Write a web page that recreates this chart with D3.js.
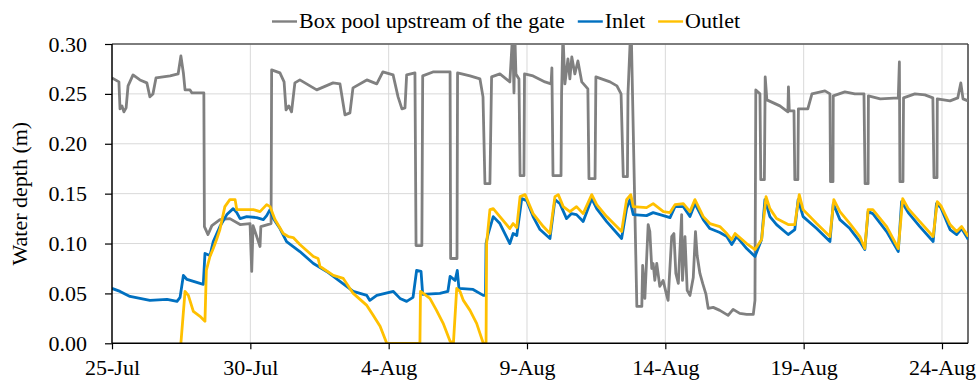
<!DOCTYPE html>
<html>
<head>
<meta charset="utf-8">
<script src="https://cdn.jsdelivr.net/npm/d3@7"></script>
<style>
  body { margin: 0; background: #fff; }
  svg { display: block; font-family: "Liberation Serif", "Times New Roman", serif; }
</style>
</head>
<body>
<svg id="chart" width="980" height="385"></svg>
<script>
// days since 25-Jul, water depth in m
var boxDays = [0,0.25,0.29,0.36,0.43,0.51,0.58,0.76,1.01,1.26,1.37,1.48,1.59,2.10,2.39,2.49,2.58,2.64,2.82,2.89,3.32,3.34,3.47,3.61,3.90,4.26,4.63,4.99,5.05,5.10,5.35,5.38,5.75,5.77,6.07,6.22,6.29,6.39,6.49,6.61,6.79,7.40,7.99,8.24,8.42,8.60,8.71,9.21,9.57,9.79,10.16,10.34,10.48,10.59,10.65,10.95,10.99,11.20,11.23,11.60,12.22,12.24,12.47,12.49,12.94,13.30,13.41,13.48,13.66,13.72,14.02,14.38,14.48,14.53,14.56,14.60,14.71,14.75,14.89,14.91,15.22,15.65,15.87,15.90,15.94,16.23,16.25,16.30,16.37,16.48,16.55,16.62,16.73,16.84,16.98,17.20,17.24,17.46,17.49,18.00,18.25,18.40,18.48,18.63,18.65,18.74,18.77,18.97,19.15,19.18,19.26,19.38,19.44,19.51,19.56,19.62,19.69,19.80,19.92,20.05,20.10,20.23,20.31,20.38,20.47,20.59,20.62,20.71,20.79,20.89,21.01,21.09,21.15,21.25,21.35,21.47,21.55,21.73,21.97,22.27,22.45,22.69,22.94,23.18,23.24,23.27,23.42,23.45,23.58,23.61,23.67,24.14,24.43,24.45,24.48,24.65,24.68,24.79,24.81,25.15,25.30,25.77,25.95,25.97,26.06,26.07,26.49,26.85,27.18,27.22,27.33,27.34,27.77,28.42,28.46,28.48,28.59,28.61,29.02,29.38,29.67,29.71,29.82,29.83,30.29,30.57,30.68,30.76,30.94];
var boxDepth = [0.266,0.262,0.235,0.238,0.232,0.236,0.258,0.269,0.264,0.261,0.247,0.250,0.266,0.268,0.270,0.288,0.271,0.254,0.254,0.251,0.251,0.117,0.109,0.118,0.124,0.125,0.119,0.120,0.072,0.118,0.097,0.117,0.120,0.274,0.271,0.262,0.234,0.238,0.232,0.261,0.264,0.254,0.261,0.260,0.229,0.231,0.256,0.264,0.260,0.272,0.269,0.247,0.235,0.236,0.269,0.271,0.098,0.098,0.268,0.272,0.272,0.085,0.085,0.271,0.268,0.265,0.247,0.160,0.160,0.267,0.270,0.262,0.310,0.251,0.310,0.270,0.265,0.168,0.168,0.270,0.268,0.262,0.260,0.276,0.168,0.168,0.250,0.310,0.260,0.285,0.265,0.287,0.270,0.283,0.262,0.255,0.165,0.165,0.267,0.262,0.258,0.250,0.167,0.167,0.250,0.310,0.310,0.037,0.037,0.078,0.045,0.119,0.112,0.075,0.080,0.063,0.080,0.057,0.063,0.048,0.043,0.107,0.110,0.070,0.060,0.129,0.063,0.107,0.053,0.048,0.066,0.112,0.088,0.070,0.060,0.049,0.035,0.036,0.033,0.028,0.034,0.030,0.029,0.029,0.043,0.254,0.250,0.164,0.164,0.267,0.244,0.238,0.232,0.257,0.233,0.233,0.164,0.164,0.235,0.235,0.250,0.253,0.250,0.162,0.162,0.248,0.252,0.250,0.250,0.160,0.160,0.248,0.245,0.246,0.282,0.162,0.162,0.246,0.250,0.249,0.246,0.166,0.166,0.245,0.243,0.246,0.261,0.245,0.243];

var inletDays = [0,0.29,0.65,1.37,1.99,2.35,2.46,2.58,2.71,3.18,3.30,3.36,3.54,3.66,3.90,4.15,4.38,4.51,4.63,4.87,5.23,5.47,5.59,5.71,5.83,6.07,6.31,6.79,7.28,7.76,8.24,8.72,9.21,9.32,9.57,10.17,10.41,10.65,10.88,11.01,11.17,11.23,11.85,12.14,12.22,12.40,12.48,12.54,13.05,13.42,13.50,13.52,13.60,13.78,14.02,14.38,14.50,14.63,14.81,14.99,15.22,15.47,15.83,16.01,16.19,16.43,16.61,16.79,17.03,17.34,17.52,17.88,18.42,18.60,18.72,18.84,19.32,19.56,19.93,20.17,20.35,20.65,20.89,21.07,21.37,21.61,21.97,22.22,22.40,22.58,22.94,23.24,23.48,23.60,23.78,24.02,24.44,24.68,24.80,24.98,25.47,25.95,26.07,26.31,26.67,27.03,27.21,27.33,27.50,28.00,28.42,28.54,28.78,29.20,29.68,29.80,29.96,30.29,30.53,30.71,30.95];
var inletDepth = [0.055,0.052,0.047,0.043,0.044,0.042,0.046,0.068,0.064,0.060,0.059,0.090,0.088,0.102,0.117,0.129,0.135,0.131,0.125,0.127,0.126,0.124,0.128,0.134,0.125,0.115,0.102,0.092,0.080,0.072,0.062,0.052,0.048,0.043,0.048,0.052,0.045,0.042,0.046,0.073,0.072,0.049,0.050,0.052,0.067,0.063,0.073,0.055,0.054,0.048,0.048,0.100,0.110,0.127,0.120,0.100,0.110,0.108,0.145,0.143,0.127,0.114,0.105,0.144,0.140,0.125,0.130,0.129,0.122,0.145,0.135,0.122,0.105,0.135,0.144,0.129,0.128,0.131,0.128,0.126,0.137,0.137,0.127,0.140,0.124,0.115,0.111,0.107,0.099,0.107,0.095,0.087,0.104,0.144,0.127,0.119,0.109,0.114,0.144,0.127,0.115,0.102,0.140,0.124,0.115,0.102,0.094,0.132,0.130,0.112,0.092,0.142,0.131,0.117,0.102,0.140,0.136,0.114,0.109,0.115,0.104];

var outletDays = [2.49,2.64,2.76,2.94,3.18,3.36,3.41,3.54,3.66,3.78,3.90,4.08,4.26,4.45,4.51,5.11,5.35,5.59,5.71,5.89,6.19,6.37,6.55,6.79,7.28,7.45,7.52,8.00,8.36,8.48,8.72,9.21,9.44,9.69,9.93,11.13,11.15,11.25,11.49,11.73,11.97,12.22,12.34,12.46,12.58,12.70,12.94,13.18,13.30,13.42,13.52,13.54,13.66,13.78,14.02,14.38,14.50,14.63,14.75,14.93,15.22,15.59,15.83,16.01,16.13,16.31,16.55,16.79,17.03,17.34,17.52,17.88,18.42,18.60,18.75,18.84,19.32,19.56,19.93,20.17,20.35,20.65,20.89,21.07,21.37,21.61,21.97,22.22,22.40,22.52,22.94,23.24,23.48,23.64,23.78,24.02,24.44,24.68,24.84,24.98,25.47,25.95,26.09,26.31,26.67,27.03,27.21,27.33,27.50,28.00,28.42,28.58,28.78,29.20,29.68,29.83,29.96,30.29,30.53,30.71,30.95];
var outletDepth = [0,0.052,0.048,0.032,0.027,0.022,0.073,0.087,0.095,0.104,0.114,0.137,0.144,0.144,0.134,0.134,0.132,0.139,0.137,0.124,0.110,0.107,0.106,0.099,0.087,0.085,0.077,0.068,0.065,0.060,0.050,0.038,0.028,0.017,0,0,0.052,0.050,0.045,0.033,0.020,0.002,0,0.055,0.052,0.043,0.033,0.020,0.010,0,0,0.100,0.134,0.135,0.127,0.115,0.120,0.116,0.147,0.149,0.130,0.117,0.110,0.147,0.149,0.137,0.132,0.137,0.130,0.149,0.139,0.127,0.112,0.144,0.149,0.137,0.136,0.140,0.132,0.131,0.139,0.140,0.132,0.144,0.127,0.120,0.117,0.110,0.104,0.110,0.100,0.094,0.104,0.147,0.135,0.125,0.119,0.119,0.149,0.134,0.120,0.107,0.144,0.132,0.120,0.107,0.095,0.134,0.134,0.117,0.095,0.145,0.135,0.122,0.107,0.142,0.138,0.119,0.112,0.117,0.107];

var seriesNames = ['Box pool upstream of the gate', 'Inlet', 'Outlet'];
var seriesColors = ['#808080', '#0070C0', '#FFC000'];
var tickDays = [0, 5, 10, 15, 20, 25, 30];
var tickLabels = ['25-Jul', '30-Jul', '4-Aug', '9-Aug', '14-Aug', '19-Aug', '24-Aug'];
var yTicks = [0, 0.05, 0.10, 0.15, 0.20, 0.25, 0.30];

var start = new Date(2021, 6, 25)
function toDate(d) { return new Date(start.getTime() + d * 86400000) }

var svg = d3.select('#chart')
var pLeft = 112, pRight = 968, pTop = 44, pBottom = 343.3

var x = d3.scaleTime()
    .domain([start, toDate(30.94)])
    .range([pLeft, pRight])
var y = d3.scaleLinear()
    .domain([0, 0.30])
    .range([pBottom, pTop])

// gridlines
svg.append('g')
    .selectAll('line')
    .data(yTicks.slice(1))
    .enter().append('line')
    .attr('x1', pLeft).attr('x2', pRight)
    .attr('y1', function(d) { return y(d) }).attr('y2', function(d) { return y(d) })
    .attr('stroke', '#d9d9d9').attr('stroke-width', 1)
svg.append('g')
    .selectAll('line')
    .data(tickDays.slice(1))
    .enter().append('line')
    .attr('x1', function(d) { return x(toDate(d)) }).attr('x2', function(d) { return x(toDate(d)) })
    .attr('y1', pTop).attr('y2', pBottom)
    .attr('stroke', '#d9d9d9').attr('stroke-width', 1)

// plot border
svg.append('line').attr('x1', pLeft).attr('x2', pRight).attr('y1', pTop).attr('y2', pTop)
    .attr('stroke', '#595959').attr('stroke-width', 1.5)
svg.append('line').attr('x1', pRight).attr('x2', pRight).attr('y1', pTop).attr('y2', pBottom)
    .attr('stroke', '#404040').attr('stroke-width', 1.5)

svg.append('clipPath').attr('id', 'clip')
    .append('rect').attr('x', pLeft).attr('y', pTop).attr('width', pRight - pLeft).attr('height', pBottom - pTop)

var line = d3.line()
    .x(function(d) { return x(toDate(d[0])) })
    .y(function(d) { return y(d[1]) })

var series = [
    d3.zip(boxDays, boxDepth),
    d3.zip(inletDays, inletDepth),
    d3.zip(outletDays, outletDepth)
]

svg.append('g').attr('clip-path', 'url(#clip)')
    .selectAll('path')
    .data(series)
    .enter().append('path')
    .attr('d', line)
    .attr('fill', 'none')
    .attr('stroke', function(d, i) { return seriesColors[i] })
    .attr('stroke-width', 2.8)
    .attr('stroke-linejoin', 'round')

// axes
var yAxis = d3.axisLeft(y).tickValues(yTicks).tickFormat(d3.format('.2f')).tickSize(7).tickPadding(18)
var gy = svg.append('g').attr('transform', 'translate(' + pLeft + ',0)').call(yAxis)
var xAxis = d3.axisBottom(x).tickValues(tickDays.map(toDate))
    .tickFormat(function(d, i) { return tickLabels[i] }).tickSize(6).tickPadding(10)
var gx = svg.append('g').attr('transform', 'translate(0,' + pBottom + ')').call(xAxis)

svg.selectAll('.domain').attr('stroke', '#000').attr('stroke-width', 1.5)
svg.selectAll('.tick line').attr('stroke', '#000').attr('stroke-width', 1.2)
svg.selectAll('.tick text').attr('font-family', '"Liberation Serif", serif').attr('font-size', 22).attr('fill', '#000')
gy.select('.domain').attr('d', 'M0,' + pBottom + 'V' + pTop)
gx.select('.domain').attr('d', 'M' + pLeft + ',0H' + pRight)

svg.append('text')
    .attr('transform', 'translate(27,' + ((pTop + pBottom) / 2) + ') rotate(-90)')
    .attr('text-anchor', 'middle')
    .attr('font-size', 22)
    .text('Water depth (m)')

// legend
var lx = 272
seriesNames.forEach(function(name, i) {
    svg.append('line').attr('x1', lx).attr('x2', lx + 25).attr('y1', 21.5).attr('y2', 21.5)
        .attr('stroke', seriesColors[i]).attr('stroke-width', 2.4)
    var t = svg.append('text').attr('x', lx + 27).attr('y', 28).attr('font-size', 22).text(name)
    lx += 27 + t.node().getComputedTextLength() + 13
})
</script>
</body>
</html>
